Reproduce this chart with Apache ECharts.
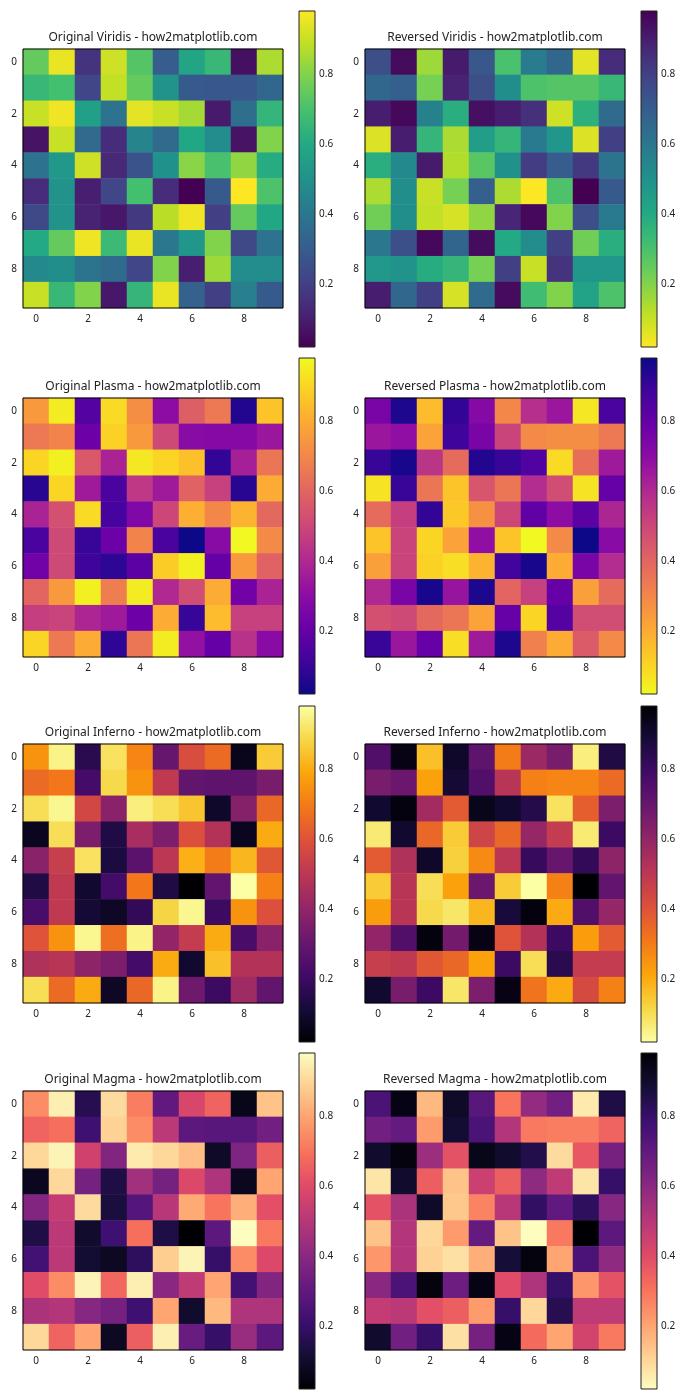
<!DOCTYPE html>
<html><head><meta charset="utf-8">
<script src="https://cdn.jsdelivr.net/npm/echarts@6/dist/echarts.min.js"></script>
<style>html,body{margin:0;padding:0;background:#fff}#c{width:700px;height:1400px}</style>
</head><body><div id="c"></div>
<script>
// ---- data ----
const row0 = [0.75, 0.95, 0.16, 0.91, 0.72, 0.30, 0.58, 0.66, 0.06, 0.86];
const row1 = [0.66, 0.69, 0.22, 0.89, 0.75, 0.51, 0.29, 0.28, 0.28, 0.34];
const row2 = [0.90, 0.96, 0.56, 0.38, 0.94, 0.90, 0.85, 0.09, 0.37, 0.65];
const row3 = [0.07, 0.90, 0.35, 0.14, 0.45, 0.35, 0.59, 0.48, 0.07, 0.80];
const row4 = [0.38, 0.53, 0.91, 0.13, 0.27, 0.50, 0.81, 0.70, 0.82, 0.61];
const row5 = [0.14, 0.51, 0.10, 0.22, 0.69, 0.14, 0.02, 0.29, 0.98, 0.71];
const row6 = [0.23, 0.51, 0.11, 0.08, 0.18, 0.88, 0.96, 0.20, 0.75, 0.59];
const row7 = [0.60, 0.75, 0.96, 0.67, 0.95, 0.40, 0.52, 0.80, 0.23, 0.38];
const row8 = [0.47, 0.49, 0.39, 0.35, 0.22, 0.80, 0.10, 0.84, 0.48, 0.48];
const row9 = [0.90, 0.66, 0.80, 0.08, 0.65, 0.95, 0.32, 0.20, 0.43, 0.29];
const matrix = [row0,row1,row2,row3,row4,row5,row6,row7,row8,row9];
const xLabels = ['0','1','2','3','4','5','6','7','8','9'];
const yLabels = ['0','1','2','3','4','5','6','7','8','9'];
const cbTicks = [0.2, 0.4, 0.6, 0.8];
const titles = [
  'Original Viridis - how2matplotlib.com', 'Reversed Viridis - how2matplotlib.com',
  'Original Plasma - how2matplotlib.com', 'Reversed Plasma - how2matplotlib.com',
  'Original Inferno - how2matplotlib.com', 'Reversed Inferno - how2matplotlib.com',
  'Original Magma - how2matplotlib.com', 'Reversed Magma - how2matplotlib.com'
];
const viridis = ['#440154','#482475','#414487','#355f8d','#2a788e','#21918c','#22a884','#44bf70','#7ad151','#bddf26','#fde725'];
const plasma  = ['#0d0887','#41049d','#6a00a8','#8f0da4','#b12a90','#cc4778','#e16462','#f2844b','#fca636','#fcce25','#f0f921'];
const inferno = ['#000004','#160b39','#420a68','#6a176e','#932667','#bc3754','#dd513a','#f37819','#fca50a','#f6d746','#fcffa4'];
const magma   = ['#000004','#140e36','#3b0f70','#641a80','#8c2981','#b73779','#de4968','#f7705c','#fe9f6d','#fecf92','#fcfdbf'];
const cmapList = [viridis, plasma, inferno, magma];

// ---- build ----
const flat = matrix.flat();
const vMin = Math.min(...flat), vMax = Math.max(...flat);
const heatData = [];
matrix.forEach((row, r) => row.forEach((v, c) => heatData.push([c, r, v])));

const plotLeft = [23, 365], plotW = 260, plotH = 259;
const cbLeft = [299, 641], cbW = 16, cbH = 336;
const rowPlotTop = [49, 398, 744, 1091];
const rowCbTop = [11, 358, 706, 1053];
const FONT = 'Noto Sans, DejaVu Sans, sans-serif';

const grid = [], xAxis = [], yAxis = [], series = [], visualMap = [], graphic = [];
for (let i = 0; i < 8; i++) {
  const r = Math.floor(i / 2), col = i % 2;
  const colors = col === 0 ? cmapList[r].slice() : cmapList[r].slice().reverse();
  // heatmap grid
  grid.push({left: plotLeft[col], top: rowPlotTop[r], width: plotW, height: plotH,
    show: true, borderColor: '#000', borderWidth: 1, backgroundColor: 'transparent', z: 5});
  xAxis.push({type: 'category', gridIndex: 2*i, data: xLabels, position: 'bottom',
    axisLine: {show: false}, splitLine: {show: false},
    axisTick: {alignWithLabel: true, interval: 1, length: 4, lineStyle: {color: '#000'}},
    axisLabel: {interval: 1, margin: 6, fontSize: 10, color: '#222', fontFamily: FONT}});
  yAxis.push({type: 'category', gridIndex: 2*i, data: yLabels, inverse: true,
    axisLine: {show: false}, splitLine: {show: false},
    axisTick: {alignWithLabel: true, interval: 1, length: 4, lineStyle: {color: '#000'}},
    axisLabel: {interval: 1, margin: 6, fontSize: 10, color: '#222', fontFamily: FONT}});
  series.push({type: 'heatmap', xAxisIndex: 2*i, yAxisIndex: 2*i, data: heatData,
    itemStyle: {borderWidth: 0}, emphasis: {disabled: true}, progressive: 0});
  visualMap.push({type: 'continuous', show: false, seriesIndex: series.length - 1, dimension: 2,
    min: vMin, max: vMax, inRange: {color: colors}});
  // colorbar grid
  grid.push({left: cbLeft[col], top: rowCbTop[r], width: cbW, height: cbH,
    show: true, borderColor: '#222', borderWidth: 1, backgroundColor: 'transparent', z: 5});
  xAxis.push({type: 'value', gridIndex: 2*i+1, min: 0, max: 1, show: false});
  yAxis.push({type: 'value', gridIndex: 2*i+1, position: 'right', min: vMin, max: vMax,
    axisLine: {show: false}, splitLine: {show: false},
    axisTick: {show: true, length: 4, customValues: cbTicks, lineStyle: {color: '#000'}},
    axisLabel: {customValues: cbTicks, margin: 4, fontSize: 10, color: '#222', fontFamily: FONT,
      formatter: v => v.toFixed(1)}});
  const stops = colors.map((c, k) => ({offset: k / (colors.length - 1), color: c}));
  series.push({type: 'custom', xAxisIndex: 2*i+1, yAxisIndex: 2*i+1, data: [[0, vMin]],
    silent: true,
    renderItem: (params, api) => {
      const p0 = api.coord([0, vMin]), p1 = api.coord([1, vMax]);
      return {type: 'rect', shape: {x: p0[0], y: p1[1], width: p1[0] - p0[0], height: p0[1] - p1[1]},
        style: {fill: new echarts.graphic.LinearGradient(0, 1, 0, 0, stops)}};
    }});
  graphic.push({type: 'text', x: plotLeft[col] + plotW / 2, y: rowPlotTop[r] - 11,
    style: {text: titles[i], textAlign: 'center', textVerticalAlign: 'middle',
      font: '12px ' + FONT, fill: '#222'}});
}

const chart = echarts.init(document.getElementById('c'), null, {renderer: 'canvas'});
chart.setOption({animation: false, backgroundColor: '#fff', grid, xAxis, yAxis, series, visualMap, graphic});
</script></body></html>
